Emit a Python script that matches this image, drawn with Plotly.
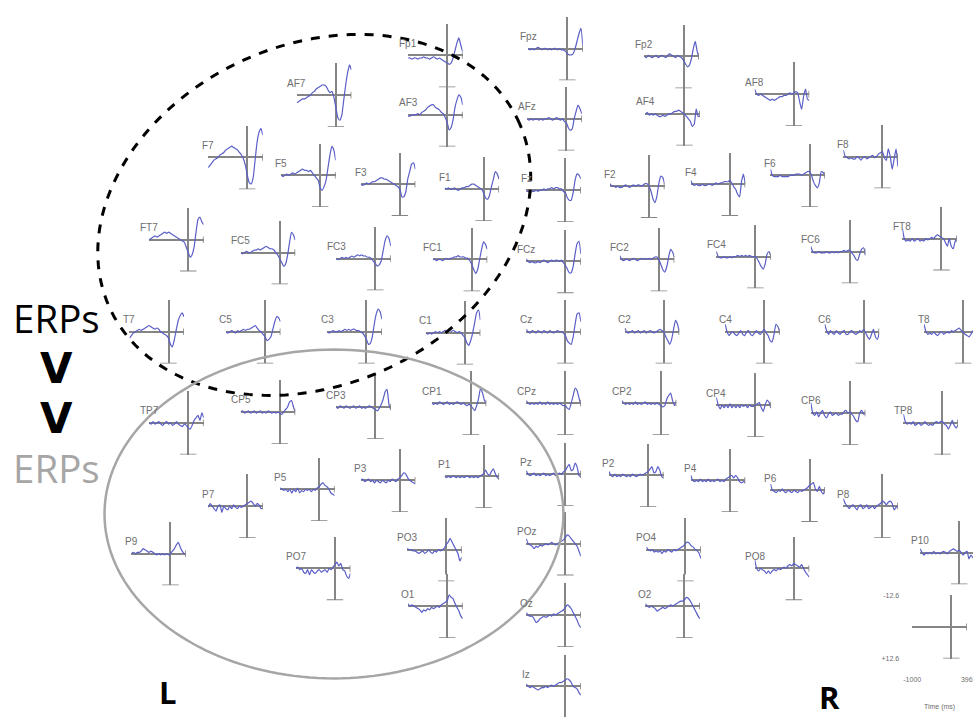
'''
    Draws the grid of averaged ERP waveforms laid out over the scalp,
    one small crosshair plot per electrode, with the two compared
    regions outlined by ellipses.
'''

import math

import plotly.graph_objects as go


# time axis shared by every waveform (ms)
TIME_MS = [-1000, -950, -900, -850, -800, -750, -700, -650, -600, -550,
           -500, -450, -400, -350, -300, -250, -200, -150, -100, -50,
           0, 50, 100, 150, 200, 250, 300, 350, 396]

# amplitudes in uV, negative is drawn upward
FP1 = [1, 1, 1.5, 1, 1, 1.5, 1, 1, 0.5, 1, 1, 1.5, 1, 0.5, 1, 1.5, 1, 1.5, 2, 2.5, 3, 3.5, 3, 1, -2, -5, -7, -4, -1.5]
FPZ = [0, 0.5, 0, 0.5, 0, -0.5, 0, 0.5, 0, 0, 0.5, 0, 0.5, 0, 0, 0.5, 0, 0.5, 0.5, 1, 2, 2.5, 2.5, 2, 0, -3, -6, -8, -1]
FP2 = [0, 0.5, -0.5, 0, 0.5, 0, -0.5, 0.5, 0, -0.5, 0, 0.5, -0.5, -1, -0.5, 0, 0.5, -0.5, 0, 0.5, 1.5, 3, 4, 3.5, 1, -3, -6, -2, 0.5]
AF7 = [3, 2.5, 2, 1.5, 1.5, 1, 0.5, 0, -1, -1.5, -2.5, -3, -3.5, -4, -4, -3.5, -2, -1, -1.5, 1, 5, 9, 10, 8, 2, -4, -9, -12, -10]
AF3 = [0.5, 0.5, 0, 0, 0, -0.5, 0, -1, -1.5, -2, -3, -3.5, -4, -4, -3, -2.5, -2, -1, -0.5, 1, 3, 6, 5, 2, -3, -6, -8, -7, -4]
AFZ = [0, 0.5, 0, 0.5, 0, 0, 0.5, 0, 0.5, 0, 0, -0.5, 0, 0.5, 0, -0.5, 0, 0.5, 0, 1, 1.5, 3.5, 4.5, 4, 0, -3, -5.5, -4, -2]
AF4 = [0, -0.5, 0.5, 0, 0.5, 0, 0.5, 1, 1, 0.5, 1, 0.5, 0, 0, -0.5, -1, -1, -1.5, -1, -0.5, 0, 1, 2, 3, 5, 4, -2, 1, 1]
AF8 = [-2, 0, 0.5, 0, 0.5, 1, 1.5, 2, 2.5, 2, 2.5, 2, 1.5, 1, 1, 0.5, 0.5, 0, -0.5, 0, -0.5, -1, -0.5, 3, 6, 1, -2, 2, 2.5]

F7 = [4, 3, 2, 1, 0.5, 0, -1, -1.5, -2, -3, -3.5, -4, -4.5, -4, -3.5, -3, -2, -1, 0.5, 3, 7, 10, 10.5, 8, 1, -6, -10, -11.5, -9]
F5 = [0, 0.5, 0, -0.5, 0, -0.5, -1, -0.5, -1, -1.5, -2, -2.5, -2, -2, -1.5, -2, -1, 0, 1, 2, 5, 6, 4.5, 2, -3, -8, -11.5, -10, -6]
F3 = [0, 0.5, 0, -0.5, 0, -0.5, -1, -1, -1.5, -2, -2.5, -2.5, -2, -2, -1.5, -1, -0.5, 0, 0.5, 1, 2, 5, 5, 3, -2, -5, -8, -8.5, -6]
F1 = [-0.5, 0, -0.5, 0, 0, -0.5, 0, 0.5, 0, -0.5, -0.5, -1, -1, -1.5, -2, -2, -1.5, -1, -0.5, 0, 1.5, 3.5, 4, 2.5, -1, -4, -7, -6, -4]
FZ = [0.5, 0.5, 1, 0.5, 0.5, 0, 0.5, 0, 0, -0.5, 0, -0.5, -0.5, -1, -0.5, -1, -1, -0.5, -0.5, 0.5, 1, 3, 4, 4, 1, -4, -6.5, -6, -4.5]
F2 = [-1, 0, 0, 0.5, 0, 0.5, 0.5, 0, -0.5, 0, 0.5, 0, -0.5, 0, -0.5, -0.5, 0, -0.5, -1, -1, 0, 2, 5, 6.5, 4, -1, -4, -3.5, -1]
F4 = [-1.5, 0, 0.5, 0, 0.5, 0.5, 0, 0.5, 0.5, 0, 0, 0.5, 0, -0.5, 0, -0.5, -0.5, -1, -1, -1, -1.5, -0.5, 1, 2, 4, 5, -1, -4, 0]
F6 = [-2.5, 0, 0.5, 0.5, 0.5, 0, 0.5, 0.5, 0.5, 0.5, 0, 0, 0, -0.5, -0.5, -0.5, 0, -0.5, -1, -1.5, -1.5, 0, 2.5, 4, 5, 3, -1.5, -1, 0]
F8 = [-2.5, 0, 0.5, 1, 0.5, 1, 1, 0, 0.5, 1.5, 0.5, 0, 1, 0.5, 0, -0.5, 0.5, 0, -1, -1.5, -2, 0.5, 1.5, -3, 0, 5, 1, -3, 4]

FT7 = [0, -0.5, -1, -1.5, -1, -1.5, -2, -2.5, -3, -2.5, -3, -2.5, -2, -1.5, -1, -0.5, 0, 0.5, 1, 3, 5, 7, 6, 3, -3, -8, -9, -7, -6]
FC5 = [0, 0.5, 0, -0.5, 0, 0, -0.5, -1, -1, -1.5, -1, -1.5, -2, -2.5, -2, -1.5, -1.5, -1, 0, 1, 2.5, 4, 5.5, 4.5, 1, -4, -8, -7, -5]
FC3 = [0, 0.5, 0, -0.5, 0, -0.5, 0, -0.5, -1, -0.5, -1, -1.5, -1, -1.5, -1, -1, -0.5, -0.5, 0, 1, 2, 3, 2.5, 1, -3, -7, -9, -8, -5]
FC1 = [0, 0, 0.5, 0, 0, 0.5, 0, -0.5, 0, -0.5, -0.5, -1, -1, -1.5, -1, -1, -1, -0.5, -0.5, 0.5, 2, 4, 5.5, 4, 0, -4, -7, -6, -4]
FCZ = [-1, 0, 0.5, 0, 0.5, 0.5, 0, 0.5, 0, -0.5, 0, 0.5, 0, -0.5, 0, -0.5, -0.5, 0, -0.5, 0.5, 1.5, 3, 4.5, 4.5, 2, -3, -7, -8, -3]
FC2 = [-1.5, 0, 0.5, 0, 0, 0.5, 0, -0.5, 0, 0.5, 0, -0.5, 0, -0.5, 0, -0.5, 0, -0.5, -1, -1, 0, 2, 4, 5, 3, -1, -4, -3, -1]
FC4 = [-2, 0, 0.5, 0.5, 0, 0.5, 0.5, 0, 0.5, 0, 0, -0.5, 0, -0.5, 0, -0.5, 0, -0.5, 0, 0, 0, 1, 2.5, 4, 5, 3, -1, -2, 0]
FC6 = [-2, 0, 0.5, 0.5, 0, 0.5, 0.5, 0.5, 0, 0.5, 0.5, 0, 0.5, 0, 0.5, 0, 0, -0.5, 0, -0.5, -0.5, 0.5, 1.5, 3, 3.5, 1, -1, -1.5, 1.5]
FT8 = [-4, 0, 1, 0.5, 1, 0, 1, 0.5, 0, 1, 0.5, 1, 0, 0.5, 0, -0.5, 0, -1, -1.5, -1, -0.5, 0, 1.5, 3, 0, 3, 4, 1, 0]

T7 = [2.5, 1.5, 0.5, 0, -0.5, -1, -0.5, -1, -1.5, -2, -2.5, -2, -1.5, -1, -1.5, -1, 0, 0.5, 1, 1.5, 2.5, 5, 6, 3, -1, -4.5, -6.5, -7.5, -6]
C5 = [0, 0.5, 0, -0.5, 0, 0.5, -0.5, 0, -0.5, -1, -0.5, -1, -1, -1.5, -2, -2.5, -1.5, -0.5, 0, 1, 2, 3.5, 3, 2, -1, -4, -6, -5.5, -4]
C3 = [0, 0.5, 0, -0.5, 0, 0, -0.5, 0, -0.5, -1, -0.5, -1, -0.5, -1, -1, -0.5, -0.5, 0, 0.5, 1.5, 3, 5, 4.5, 2, -3, -7, -9, -8, -5]
C1 = [0, 0.5, 0, 0.5, 0, -0.5, 0, -0.5, 0, -0.5, -1, -0.5, -1, -0.5, -1, -0.5, 0, -0.5, 0, 1, 2, 4, 5, 3, 0, -4, -8, -9, -5]
CZ = [-1, 0, 0.5, -0.5, 0, 0.5, -0.5, 0, 0.5, -0.5, 0, 0.5, -0.5, 0, 0.5, 0, -0.5, 0, 0, 0.5, 1.5, 3.5, 4.5, 5, 2, -3, -7, -7.5, -4]
C2 = [-1.5, 0, 0.5, 0, -0.5, 0.5, 0, -0.5, 0.5, 0, -0.5, 0.5, 0, -0.5, 0, 0.5, 0, -0.5, -1, -0.5, 0, 2, 3.5, 5, 3, -1, -4.5, -3, 0]
C4 = [-3, 0, 1.5, 0.5, 0, 1, 1.5, 0.5, -0.5, 1, 1.5, 0, -0.5, 1, 1.5, 0.5, -0.5, 0.5, 1, 0, -1, 0.5, 1.5, 3.5, 4, 1, -3, -2, 0]
C6 = [-3, -0.5, 1, -0.5, 0.5, 1, -0.5, 0.5, 1, 0, -0.5, 1, 1, 0, -0.5, 0.5, 1, 0.5, -0.5, 0, -1, 0.5, 2, 3, 1, -1, 2, 3, 0.5]
T8 = [-3, 0, 1, 0.5, 1, 0, 1, 1.5, 0.5, 0, 1, 0.5, 0, 0.5, -0.5, 0, -0.5, -1, -1.5, -0.5, 0, 1, 1.5, 2, 1, -0.5, 1, 2, 0.5]

TP7 = [0, 0.5, -0.5, 0.5, 0, -0.5, 0.5, 1, 0, -0.5, 0.5, 0, 1, 0.5, -0.5, 0.5, 1, 1.5, 0.5, 1, 2, 2.5, 1, -1, -2, -3, -1, -4, -2]
CP5 = [0, -0.5, 0.5, 0, -0.5, 0.5, 0, -0.5, 0.5, 0, -0.5, 0.5, 0, 0.5, -0.5, 0, 0.5, 0, 0.5, 0, 0.5, 1, 0, -1, -2, -4, -4.5, -2, 0]
CP3 = [0, 0.5, -0.5, 0, 0.5, -0.5, 0, 0.5, 0, -0.5, 0.5, 0, -0.5, 0.5, 0, 0.5, 0, -0.5, 0, 0.5, 1, 1.5, 0.5, -1, -3, -6, -7, -1, 1]
CP1 = [0, 0.5, 0, 0.5, -0.5, 0, 0.5, 0, -0.5, 0.5, 0, 0.5, 0, -0.5, 0, 0.5, 0, 0.5, 1, 0.5, 1, 2, 3, 1, -2, -6, -4, -1, 0]
CPZ = [-1, 0, 0.5, 0, 0.5, 0, 0.5, -0.5, 0.5, 0, 0.5, -0.5, 0.5, 0, 0.5, 0, 0.5, 0, 0.5, 1, 1, 2, 2.5, 0, -3, -6, -5, -2, 0.5]
CP2 = [-1, 0, 0.5, 0, 0.5, 0, 0.5, -0.5, 0.5, 0, 0.5, 0, -0.5, 0.5, 0, 0.5, 0, 0.5, 0, 0.5, 1, 1.5, 1, -1.5, -3, -4, -1, 1, -0.5]
CP4 = [-3, 0, 1.5, 0, 1, 0, 1, -0.5, 1, 0, 1, 0, 1, 0, 0.5, 0, 1, 0, 0.5, 0.5, 0, -0.5, -1, 1, 2.5, 0, -2, -1, 1]
CP6 = [-4, 0, 1, -0.5, 1.5, 0, -1, 1, 2, 0.5, -0.5, 1, 0.5, 0, 1, 0.5, 0.5, -0.5, -1, 0, -0.5, 0.5, 1.5, 3, 3.5, 0, -1, 0.5, 0]
TP8 = [-3.5, -0.5, 0.5, 0, 0.5, -0.5, 1, 0.5, 0, 1, 0.5, -0.5, 0.5, 1, 0.5, 1, 0, -0.5, 0, -0.5, -0.5, 0.5, 1, 2.5, 1, -1, 1, 2, 1]

P9 = [0, -0.5, 0, -0.5, -0.5, -1, -2, -1.5, -1, -0.5, -1, -0.5, 0, 0.5, 0, 0.5, 0, 0.5, 0, 0.5, 0, -1, -2, -3.5, -4.5, -2.5, -1, 0, 0.5]
P7 = [0.5, -1, 0, 1, 2, 0, -0.5, 2.5, 0, 1, 1.5, 0, 1, -0.5, 0.5, 1, 0, 0.5, 0, -0.5, -1, -1.5, -2, -1, 0, -1, -0.5, 1, 1]
P5 = [-0.5, 0, 0.5, 0, 1, 0, 1.5, 0, 1, -0.5, 1.5, 0.5, 1, 0, 0.5, 0, 1, 0, 0.5, -0.5, -1, -2, -2.5, -1.5, -1, 0, 1.5, 2, 2.5]
P3 = [0, -0.5, 0.5, 0, -0.5, 0.5, 0, 1, 0, 0.5, 1, 0, 0.5, 1, 0, 0.5, -0.5, 0, 0.5, -0.5, -1, -2, -3, -2.5, -1, 0, 0.5, 1, 1.5]
P1 = [0, 0.5, 0, 0.5, 0, 0, 0.5, 0, 0.5, 0, 0.5, 0, 0, 0.5, 0, 0.5, 0, 0.5, 0, -0.5, -1, -2.5, -1, -0.5, -2, -3, -1, 0.5, 1]
PZ = [-1.5, 0, 0.5, 0, -0.5, 0.5, 0, 0.5, 0, -0.5, 0.5, 0, 0.5, 0, -0.5, 0.5, 0, -0.5, 0, -1, -1.5, -3, -4, -1.5, -2, -4.5, -3, 0.5, 1]
P2 = [-1.5, 0, 0.5, -0.5, 0.5, 0, 0.5, -0.5, 0, 0.5, 0, 0.5, -0.5, 0, 0.5, 0, -0.5, 0, -0.5, -1, -1.5, -2.5, -3.5, -1, -1.5, -3.5, -2, 0.5, 1]
P4 = [-2, 0, 0.5, 0, 0.5, -0.5, 0.5, 0, 0.5, -0.5, 0.5, 0, 0.5, 0, -0.5, 0.5, 0, 0.5, -0.5, -1, -1.5, -2, -1, -2, -1, 0.5, 1, 0.5, 1]
P6 = [-2.5, 0, 0.5, 1, 0, 0.5, -0.5, 0.5, 1, 0, 0.5, 1, 0, 0.5, 1, 0, 0.5, 0, -0.5, -1, -2, -2.5, -3, -0.5, 0.5, -1.5, 0.5, 1.5, -0.5]
P8 = [-3, -1, 0, 1, 0, -0.5, 0.5, 1.5, 0, -0.5, 1, 0.5, -0.5, 1, 0.5, 0, 1, 0, -0.5, -1, -2, -1.5, -0.5, -1.5, -2, -1, 1.5, 0.5, 0]
P10 = [-1.5, 0, 1, 0, 0.5, 0, 0.5, -0.5, 0.5, 0, 0.5, 0, -0.5, 0, 0.5, -0.5, -1, -1.5, -1, -0.5, -1, 0, 1, 0, -0.5, 2.5, 1, 2, 1.5]

PO7 = [0, -0.5, 0.5, 0, 1.5, 2, 0.5, 2.5, 0.5, 1.5, 2, 1, 0.5, 1.5, 1, 0.5, 1.5, 0, 0.5, -0.5, -1.5, -2.5, -1, -2, 0.5, 1, 3, 4, 2]
PO3 = [-0.5, 0, 0, 0.5, 0.5, 1, 1.5, 1, 0.5, 1.5, 1, 0, 1, 1.5, 0.5, 1, 0, 0.5, 0, -0.5, -2, -3, -4.5, -3, -1.5, 0, 1.5, 4.5, 3]
POZ = [-2, 0, 0.5, 1, 2, 1, 1.5, 0.5, 1, 0.5, 0, 0.5, 0, -0.5, 0, 0.5, 0, -0.5, -1, -1.5, -2.5, -3.5, -3, -2, -1, 0, 1, 3, 5]
PO4 = [-1, 0, 0.5, 0, 1, 0.5, 1, 0.5, 1.5, 0.5, 1, 0, 0.5, 1, 0, 0.5, 0, -0.5, -1, -1.5, -2.5, -3, -2.5, -1.5, -1, 0, 0.5, 1.5, 3.5]
PO8 = [-3.5, 0, 1, 0, 0.5, 1, 2, 1, 2, 1, 0.5, 1, 0, 0.5, 0, -0.5, 0, -1, -1.5, -1, -2, -1.5, -1, -0.5, -1.5, 0, 1.5, 2.5, 3.5]

O1 = [-1, 0, -0.5, 0, 0.5, 1, 1.5, 2.5, 1.5, 2, 1, 1.5, 0.5, 1, 0.5, 0, 0.5, -0.5, -1, -1.5, -2, -4.5, -3.5, -3, -1, 0.5, 2, 4, 5]
OZ = [-1, 0, 0.5, 0.5, 1.5, 3, 2.5, 1.5, 1, 0.5, 1, 0.5, 0, 0.5, -0.5, 0, -0.5, -1, -1.5, -2, -3, -4, -3.5, -2.5, -1, 0.5, 2, 4, 5]
O2 = [-1, 0, 0.5, 0, 0.5, 1, 2, 1.5, 1, 0.5, 1, 0.5, 0, -0.5, 0, -0.5, -1, -1.5, -2, -2, -2.5, -3.5, -3, -2, -0.5, 1, 2.5, 4, 5]
IZ = [-1, 0, 0.5, 0, 0.5, 1, 1.5, 1, 0.5, 0.5, 0, 0.5, 0, -0.5, 0, -0.5, -1, -1.5, -1.5, -2, -2.5, -3, -2.5, -1.5, 0, 0.5, 1, 2.5, 3.5]

# amplitude scale of every small plot (uV), and the calibration tick texts
AMPLITUDE_LIMITS = [-12.6, 12.6]
AMPLITUDE_TICKS = ['-12.6', '+12.6']
TIME_TICKS = ['-1000', '396']

SITES = [
    ('Fp1', FP1), ('Fpz', FPZ), ('Fp2', FP2),
    ('AF7', AF7), ('AF3', AF3), ('AFz', AFZ), ('AF4', AF4), ('AF8', AF8),
    ('F7', F7), ('F5', F5), ('F3', F3), ('F1', F1), ('Fz', FZ),
    ('F2', F2), ('F4', F4), ('F6', F6), ('F8', F8),
    ('FT7', FT7), ('FC5', FC5), ('FC3', FC3), ('FC1', FC1), ('FCz', FCZ),
    ('FC2', FC2), ('FC4', FC4), ('FC6', FC6), ('FT8', FT8),
    ('T7', T7), ('C5', C5), ('C3', C3), ('C1', C1), ('Cz', CZ),
    ('C2', C2), ('C4', C4), ('C6', C6), ('T8', T8),
    ('TP7', TP7), ('CP5', CP5), ('CP3', CP3), ('CP1', CP1), ('CPz', CPZ),
    ('CP2', CP2), ('CP4', CP4), ('CP6', CP6), ('TP8', TP8),
    ('P9', P9), ('P7', P7), ('P5', P5), ('P3', P3), ('P1', P1), ('Pz', PZ),
    ('P2', P2), ('P4', P4), ('P6', P6), ('P8', P8), ('P10', P10),
    ('PO7', PO7), ('PO3', PO3), ('POz', POZ), ('PO4', PO4), ('PO8', PO8),
    ('O1', O1), ('Oz', OZ), ('O2', O2), ('Iz', IZ),
]

# ---- layout: where each small plot sits (pixel of its crosshair centre)
WIDTH, HEIGHT = 979, 720
SITE_PX = {
    'Fp1': (445, 52), 'Fpz': (567, 45), 'Fp2': (685, 53),
    'AF7': (332, 92), 'AF3': (445, 112), 'AFz': (566, 116), 'AF4': (686, 111), 'AF8': (797, 91),
    'F7': (242, 155), 'F5': (316, 173), 'F3': (397, 182), 'F1': (482, 187), 'Fz': (565, 188),
    'F2': (650, 184), 'F4': (732, 182), 'F6': (813, 173), 'F8': (887, 154),
    'FT7': (182, 238), 'FC5': (275, 251), 'FC3': (372, 257), 'FC1': (470, 258), 'FCz': (565, 260),
    'FC2': (660, 258), 'FC4': (758, 255), 'FC6': (854, 250), 'FT8': (947, 237),
    'T7': (162, 331), 'C5': (260, 331), 'C3': (363, 331), 'C1': (463, 332), 'Cz': (565, 331),
    'C2': (665, 331), 'C4': (767, 331), 'C6': (868, 331), 'T8': (969, 331),
    'TP7': (182, 423), 'CP5': (275, 412), 'CP3': (372, 407), 'CP1': (469, 403), 'CPz': (565, 403),
    'CP2': (662, 403), 'CP4': (758, 405), 'CP6': (854, 413), 'TP8': (948, 423),
    'P9': (164, 555), 'P7': (242, 507), 'P5': (315, 490), 'P3': (397, 481), 'P1': (482, 477),
    'Pz': (565, 475), 'P2': (649, 476), 'P4': (732, 481), 'P6': (813, 491), 'P8': (887, 507),
    'P10': (965, 554),
    'PO7': (331, 570), 'PO3': (444, 551), 'POz': (565, 545), 'PO4': (687, 551), 'PO8': (797, 570),
    'O1': (445, 608), 'Oz': (565, 617), 'O2': (686, 608), 'Iz': (565, 689),
}
CALIBRATION_PX = (957, 629)
PX_PER_MS = 0.0397
HALF_HEIGHT_PX = 32

TRACE_COLOR = '#5a5ec6'
AXIS_COLOR = '#858585'
LABEL_COLOR = '#6e6e6e'


def axis_names(idx):
    '''
        Returns the trace references and layout keys of subplot idx.
    '''
    suffix = '' if idx == 1 else str(idx)
    return 'x' + suffix, 'y' + suffix, 'xaxis' + suffix, 'yaxis' + suffix


def subplot_box(cx, cy):
    '''
        Computes the paper domains and axis ranges of one small plot
        from the pixel position of its crosshair, clipping at the page edges.
    '''
    t_min, t_max = TIME_MS[0], TIME_MS[-1]
    v_top, v_bottom = AMPLITUDE_LIMITS
    px_per_uv = HALF_HEIGHT_PX / v_bottom

    left = cx + t_min * PX_PER_MS
    right = cx + t_max * PX_PER_MS
    top, bottom = cy - HALF_HEIGHT_PX, cy + HALF_HEIGHT_PX
    if right > WIDTH:
        t_max -= (right - WIDTH) / PX_PER_MS
        right = WIDTH
    if bottom > HEIGHT:
        v_bottom -= (bottom - HEIGHT) / px_per_uv
        bottom = HEIGHT

    return dict(
        xdomain=[left / WIDTH, right / WIDTH],
        ydomain=[1 - bottom / HEIGHT, 1 - top / HEIGHT],
        xrange=[t_min, t_max],
        yrange=[v_bottom, v_top],
    )


def add_axes(fig, idx, box, ticks=False):
    '''
        Adds the crosshair axes (zero lines plus end ticks) of subplot idx.
    '''
    xref, yref, xkey, ykey = axis_names(idx)
    common = dict(showgrid=False, zeroline=True, zerolinecolor=AXIS_COLOR,
                  zerolinewidth=1.6, showline=False, ticks='', fixedrange=True,
                  showticklabels=False)
    fig.layout[xkey] = dict(common, domain=box['xdomain'], range=box['xrange'], anchor=yref)
    fig.layout[ykey] = dict(common, domain=box['ydomain'], range=box['yrange'], anchor=xref)

    if ticks:
        small = dict(size=7, color=LABEL_COLOR, family='Liberation Sans')
        fig.layout[xkey].update(showticklabels=True, tickvals=[TIME_MS[0], TIME_MS[-1]],
                                ticktext=TIME_TICKS, tickfont=small, ticklabelstandoff=15,
                                title=dict(text='Time (ms)', font=small, standoff=22))
        fig.layout[ykey].update(showticklabels=True, tickvals=AMPLITUDE_LIMITS,
                                ticktext=AMPLITUDE_TICKS, tickfont=small, ticklabelstandoff=12)

    line = dict(color=AXIS_COLOR, width=1.6)
    if box['yrange'][0] == AMPLITUDE_LIMITS[1]:
        fig.add_shape(type='line', xref=xref, yref=yref, x0=-210, x1=210,
                      y0=AMPLITUDE_LIMITS[1], y1=AMPLITUDE_LIMITS[1], line=line)
    if box['xrange'][1] == TIME_MS[-1]:
        fig.add_shape(type='line', xref=xref, yref=yref, x0=TIME_MS[-1], x1=TIME_MS[-1],
                      y0=-1.3, y1=1.3, line=line)


def draw_site(fig, idx, name, values):
    '''
        Draws one electrode: its crosshair, its waveform and its name.
    '''
    box = subplot_box(*SITE_PX[name])
    add_axes(fig, idx, box)
    xref, yref, _, _ = axis_names(idx)
    fig.add_trace(go.Scatter(x=TIME_MS, y=values, xaxis=xref, yaxis=yref, mode='lines',
                             line=dict(color=TRACE_COLOR, width=1.2, shape='spline', smoothing=0.5),
                             hoverinfo='skip', showlegend=False))
    fig.add_annotation(text=name, xref=xref, yref=yref, x=TIME_MS[0], y=0, yshift=12,
                       showarrow=False, xanchor='center', yanchor='middle',
                       font=dict(size=10, color=LABEL_COLOR, family='Liberation Sans'))


def ellipse_path(cx, cy, a, b, tilt_deg, steps=180):
    '''
        Builds an SVG path (paper units) of an ellipse given in pixels.
    '''
    tilt = math.radians(tilt_deg)
    pts = []
    for k in range(steps + 1):
        t = 2 * math.pi * k / steps
        px = cx + a * math.cos(t) * math.cos(tilt) - b * math.sin(t) * math.sin(tilt)
        py = cy - (a * math.cos(t) * math.sin(tilt) + b * math.sin(t) * math.cos(tilt))
        pts.append(f'{px / WIDTH:.5f},{1 - py / HEIGHT:.5f}')
    return 'M' + ' L'.join(pts) + ' Z'


def add_text(fig, text, px, py, size, color, family='Open Sans', bold=False):
    fig.add_annotation(text=f'<b>{text}</b>' if bold else text, xref='paper', yref='paper',
                       x=px / WIDTH, y=1 - py / HEIGHT, showarrow=False,
                       xanchor='center', yanchor='middle',
                       font=dict(size=size, color=color, family=family))


def init_figure():
    fig = go.Figure()
    fig.update_layout(width=WIDTH, height=HEIGHT, margin=dict(l=0, r=0, t=0, b=0),
                      paper_bgcolor='white', plot_bgcolor='white', showlegend=False,
                      dragmode=False)
    return fig


fig = init_figure()

for i, (site, wave) in enumerate(SITES, start=1):
    draw_site(fig, i, site, wave)

# calibration cross in the lower right corner
add_axes(fig, len(SITES) + 1, subplot_box(*CALIBRATION_PX), ticks=True)

# the two compared regions
fig.add_shape(type='path', xref='paper', yref='paper',
              path=ellipse_path(310, 213, 228, 172, 23.8),
              line=dict(color='black', width=3, dash='dash'))
fig.add_shape(type='path', xref='paper', yref='paper',
              path=ellipse_path(330, 515, 233, 166, 0),
              line=dict(color='#a6a6a6', width=2.5))

# "ERPs > ERPs" written top to bottom, as one block of text
big_v = "<span style='font-family:DejaVu Sans;font-size:42px'><b>V</b></span>"
add_text(fig, '<br>'.join(['ERPs', big_v, big_v,
                           "<span style='color:#a6a6a6'>ERPs</span>"]),
         48, 393, 38.5, 'black')
add_text(fig, 'L', 161, 695, 31, 'black', bold=True)
add_text(fig, 'R', 833, 700, 31, 'black', bold=True)

fig.write_html('out.html', config={'displayModeBar': False},
               post_script="document.body.style.margin='0';document.body.style.overflow='hidden';")
